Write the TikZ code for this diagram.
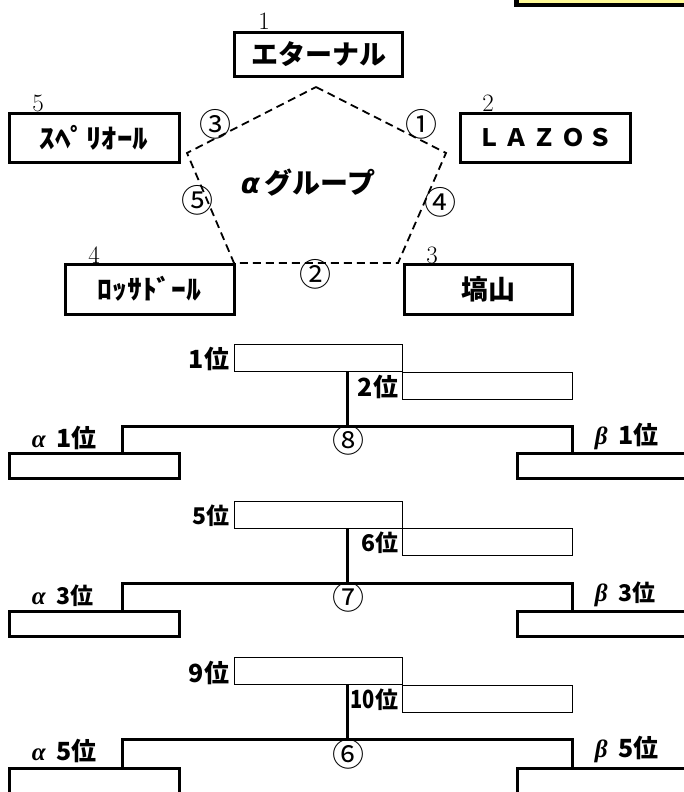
\RequirePackage{fix-cm}
\documentclass[tikz,border=0pt]{standalone}
\usepackage{fontspec}
\newfontfamily\jpfont{Noto Sans CJK JP}
\newfontfamily\grsans{DejaVu Sans}
\newfontfamily\grserif{Liberation Serif}
\usetikzlibrary{positioning}

\tikzset{
  teambox/.style={draw, line width=3pt, inner sep=0pt, minimum width=168pt, minimum height=46pt, font=\jpfont\bfseries\fontsize{27}{27}\selectfont},
  seatno/.style={inner sep=0.75pt, font=\fontsize{25}{25}\selectfont},
  matchno/.style={inner sep=0pt, font=\jpfont\fontsize{32}{32}\selectfont},
  rankbox/.style={draw, line width=0.8pt, inner sep=0pt, minimum width=168pt, minimum height=27pt},
  ranktxt/.style={inner sep=0.75pt, font=\jpfont\bfseries\fontsize{23}{23}\selectfont},
  slotbox/.style={draw, line width=3pt, inner sep=0pt, minimum width=170pt, minimum height=25pt},
  placetxt/.style={inner sep=0.75pt, anchor=south west, font=\jpfont\bfseries\fontsize{23}{23}\selectfont},
  bracket/.style={line width=3pt},
}
\newcommand{\grk}[1]{{\grserif\bfseries\itshape\fontsize{25}{25}\selectfont #1}}

\begin{document}
\begin{tikzpicture}[x=1pt,y=1pt,yscale=-1,xscale=1]
\useasboundingbox (0,0) rectangle (684,792);

%Shape: Rectangle
\draw [fill={rgb, 255:red, 255; green, 250; blue, 150 }, line width=4.5] (516.5,-20) rectangle (700,5) ;

%Shape: Rectangle
\draw (318.5,54.5) node [teambox, minimum height=43pt] (etr) {エターナル};
\draw (94,137.5) node [teambox, minimum width=170pt, minimum height=49pt] (sup) {\scalebox{1.15}[1]{ｽﾍﾟﾘｵｰﾙ}};
\draw (545,137.5) node [teambox, minimum width=170pt, minimum height=49pt] (laz) {\fontsize{24}{24}\selectfont Ｌ\,Ａ\,Ｚ\,Ｏ\,Ｓ};
\draw (149.5,289) node [teambox, minimum width=169pt, minimum height=50pt] (ros) {\scalebox{1.1}[1]{ﾛｯｻﾄﾞｰﾙ}};
\draw (488,289) node [teambox, minimum width=168pt, minimum height=50pt] (han) {塙山};

% Text Node
\draw (264,21) node [seatno] (n1) {1};
\draw (38,103) node [seatno] (n5) {5};
\draw (488,103) node [seatno] (n2) {2};
\draw (94,255) node [seatno] (n4) {4};
\draw (432,255) node [seatno] (n3) {3};

%Straight Lines
\coordinate (p1) at (316,87);
\coordinate (p2) at (446,153);
\coordinate (p3) at (398,263);
\coordinate (p4) at (234,263);
\coordinate (p5) at (187,153);
\draw [line width=1.8, dash pattern={on 8pt off 5pt}] (p1) -- (p2) -- (p3) -- (p4) -- (p5) -- cycle ;

% Text Node
\draw (308,183) node [inner sep=0.75pt, font=\jpfont\bfseries\fontsize{28}{28}\selectfont] (grp) {{\grsans\bfseries\itshape α}\,グループ};
\draw (215,124) node [matchno] (m3) {③};
\draw (421,124) node [matchno] (m1) {①};
\draw (197,200) node [matchno] (m5) {⑤};
\draw (440,202) node [matchno] (m4) {④};
\draw (315,274) node [matchno] (m2) {②};

%Shape: Rectangle
\draw (318.5,358) node [rankbox] (r1) {};
\draw (487,385.5) node [rankbox, minimum width=170pt] (r2) {};
\draw (94,465.5) node [slotbox] (a1) {};
\draw (602,465.5) node [slotbox] (b1) {};
%Straight Lines
\coordinate (s1) at (347,426);
\coordinate (hl1) at (122,426);
\coordinate (hr1) at (572,426);
\draw [bracket] (r1.south -| s1) -- (s1) ;
\draw [bracket] (a1.north -| hl1) -- (hl1) -- (hr1) -- (b1.north -| hr1) ;
% Text Node
\draw (230,359) node [ranktxt, anchor=east] (t1) {\fontsize{25}{25}\selectfont 1\jpfont\bfseries 位};
\draw (399,387) node [ranktxt, anchor=east] (t2) {\fontsize{25}{25}\selectfont 2\jpfont\bfseries 位};
\draw (348,440) node [matchno] (m8) {⑧};
\draw (31,451) node [placetxt] (pa1) {\grk{α}\ \ \fontsize{25}{25}\selectfont 1\jpfont\bfseries 位};
\draw (594,451) node [placetxt] (pb1) {\grk{β}\ \ \fontsize{25}{25}\selectfont 1\jpfont\bfseries 位};

%Shape: Rectangle
\draw (318.5,515) node [rankbox] (r5) {};
\draw (487,541.5) node [rankbox, minimum width=170pt] (r6) {};
\draw (94,623.5) node [slotbox] (a3) {};
\draw (602,623.5) node [slotbox] (b3) {};
%Straight Lines
\coordinate (s2) at (347,583);
\coordinate (hl2) at (122,583);
\coordinate (hr2) at (572,583);
\draw [bracket] (r5.south -| s2) -- (s2) ;
\draw [bracket] (a3.north -| hl2) -- (hl2) -- (hr2) -- (b3.north -| hr2) ;
% Text Node
\draw (230,516) node [ranktxt, anchor=east] (t5) {5位};
\draw (399,543) node [ranktxt, anchor=east] (t6) {6位};
\draw (348,597) node [matchno] (m7) {⑦};
\draw (31,608) node [placetxt] (pa3) {\grk{α}\ \ 3位};
\draw (594,608) node [placetxt] (pb3) {\grk{β}\ \ 3位};

%Shape: Rectangle
\draw (318.5,671) node [rankbox] (r9) {};
\draw (487,698.5) node [rankbox, minimum width=170pt] (r10) {};
\draw (94,781) node [slotbox] (a5) {};
\draw (602,781) node [slotbox] (b5) {};
%Straight Lines
\coordinate (s3) at (347,739);
\coordinate (hl3) at (122,739);
\coordinate (hr3) at (572,739);
\draw [bracket] (r9.south -| s3) -- (s3) ;
\draw [bracket] (a5.north -| hl3) -- (hl3) -- (hr3) -- (b5.north -| hr3) ;
% Text Node
\draw (230,673) node [ranktxt, anchor=east] (t9) {\fontsize{25}{25}\selectfont 9\jpfont\bfseries 位};
\draw (399,700) node [ranktxt, anchor=east] (t10) {\scalebox{0.8}[1]{\fontsize{25}{25}\selectfont\bfseries 10}\jpfont\bfseries 位};
\draw (348,754) node [matchno] (m6) {⑥};
\draw (31,764) node [placetxt] (pa5) {\grk{α}\ \ \fontsize{25}{25}\selectfont 5\jpfont\bfseries 位};
\draw (594,764) node [placetxt] (pb5) {\grk{β}\ \ \fontsize{25}{25}\selectfont 5\jpfont\bfseries 位};

\end{tikzpicture}
\end{document}
